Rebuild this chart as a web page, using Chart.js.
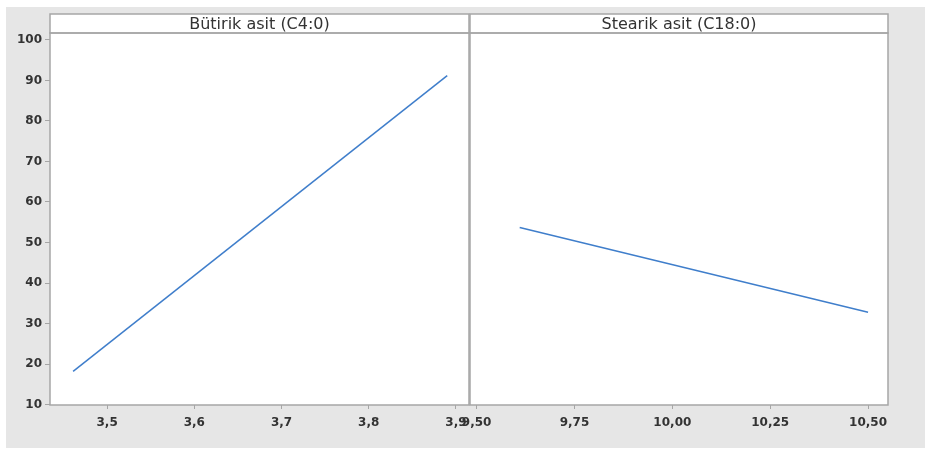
<!DOCTYPE html>
<html>
<head>
<meta charset="utf-8">
<script src="https://cdn.jsdelivr.net/npm/chart.js@4/dist/chart.umd.min.js"></script>
<style>
  html, body { margin:0; padding:0; background:#fff; }
  #wrap { position:relative; width:925px; height:450px; }
  #bg { position:absolute; left:6px; top:7px; width:919px; height:441px; background:#e6e6e6; }
  canvas { position:absolute; top:0; }
</style>
</head>
<body>
<div id="wrap">
  <div id="bg"></div>
  <canvas id="c-left" width="470" height="450" style="left:0;width:470px;height:450px"></canvas>
  <canvas id="c-right" width="485" height="450" style="left:440px;width:485px;height:450px"></canvas>
</div>
<script>
// ── data ──
const panelTitles = ['Bütirik asit (C4:0)', 'Stearik asit (C18:0)'];
const butirikX = [3.461, 3.890];
const butirikY = [18.2, 91.2];
const stearikX = [9.61, 10.50];
const stearikY = [53.7, 32.8];
const yTicks = [10, 20, 30, 40, 50, 60, 70, 80, 90, 100];
const xTicksLeft = [3.5, 3.6, 3.7, 3.8, 3.9];
const xTicksRight = [9.5, 9.75, 10.0, 10.25, 10.5];

const LINE = '#3f7ecb';
const FRAME = '#a6a6a6';
const TXT = '#333';
const FAMILY = '"DejaVu Sans", "Open Sans", sans-serif';
const FONT = { family: FAMILY, size: 12, weight: 'bold' };

// frame + strip header drawn around the plot area
const stripPlugin = {
  id: 'strip',
  afterDraw(chart, args, opts) {
    const { ctx, chartArea: a } = chart;
    ctx.save();
    ctx.fillStyle = '#fff';
    ctx.fillRect(a.left, 14, a.right - a.left, a.top - 14);
    ctx.strokeStyle = FRAME;
    ctx.lineWidth = 1.5;
    ctx.strokeRect(a.left, 14, a.right - a.left, a.top - 14);
    ctx.strokeRect(a.left, a.top, a.right - a.left, a.bottom - a.top);
    ctx.fillStyle = TXT;
    ctx.font = '16px ' + FAMILY;
    ctx.textAlign = 'center';
    ctx.textBaseline = 'middle';
    ctx.fillText(opts.title, (a.left + a.right) / 2, (14 + a.top) / 2 + 1);
    ctx.restore();
  }
};

const plotBg = {
  id: 'plotBg',
  beforeDraw(chart) {
    const { ctx, chartArea: a } = chart;
    ctx.save();
    ctx.fillStyle = '#fff';
    ctx.fillRect(a.left, a.top, a.right - a.left, a.bottom - a.top);
    ctx.restore();
  }
};

function makePanel(id, xs, ys, title, xMin, xMax, xTicks, digits, showY) {
  const pts = xs.map((x, i) => ({ x, y: ys[i] }));
  return new Chart(document.getElementById(id), {
    type: 'line',
    data: { datasets: [{ data: pts, borderColor: LINE, borderWidth: 1.5, pointRadius: 0, tension: 0, fill: false }] },
    plugins: [plotBg, stripPlugin],
    options: {
      responsive: false, animation: false,
      layout: { padding: { left: showY ? 0 : 30, right: showY ? 1 : 37, top: 33, bottom: 0 } },
      plugins: { legend: { display: false }, tooltip: { enabled: false }, strip: { title } },
      scales: {
        x: {
          type: 'linear', min: xMin, max: xMax,
          afterBuildTicks: s => { s.ticks = xTicks.map(v => ({ value: v })); },
          afterFit: s => { s.height = 45; s.paddingLeft = 0; s.paddingRight = 0; },
          grid: { drawOnChartArea: false, drawTicks: true, tickLength: 4, tickColor: FRAME },
          border: { display: false },
          ticks: { color: TXT, font: FONT, padding: 7, maxRotation: 0, autoSkip: false,
                   callback: v => v.toFixed(digits).replace('.', ',') },
        },
        y: {
          display: showY,
          min: 9.9, max: 101.7,
          afterBuildTicks: s => { s.ticks = yTicks.map(v => ({ value: v })); },
          afterFit: s => { s.width = showY ? 50 : 0; s.paddingTop = 0; s.paddingBottom = 0; },
          grid: { drawOnChartArea: false, drawTicks: true, tickLength: 5, tickColor: FRAME },
          border: { display: false },
          ticks: { color: TXT, font: FONT, padding: 3, callback: v => String(v) },
        },
      },
    },
  });
}

makePanel('c-left', butirikX, butirikY, panelTitles[0], 3.4345, 3.915, xTicksLeft, 1, true);
makePanel('c-right', stearikX, stearikY, panelTitles[1], 9.483, 10.551, xTicksRight, 2, false);
</script>
</body>
</html>
